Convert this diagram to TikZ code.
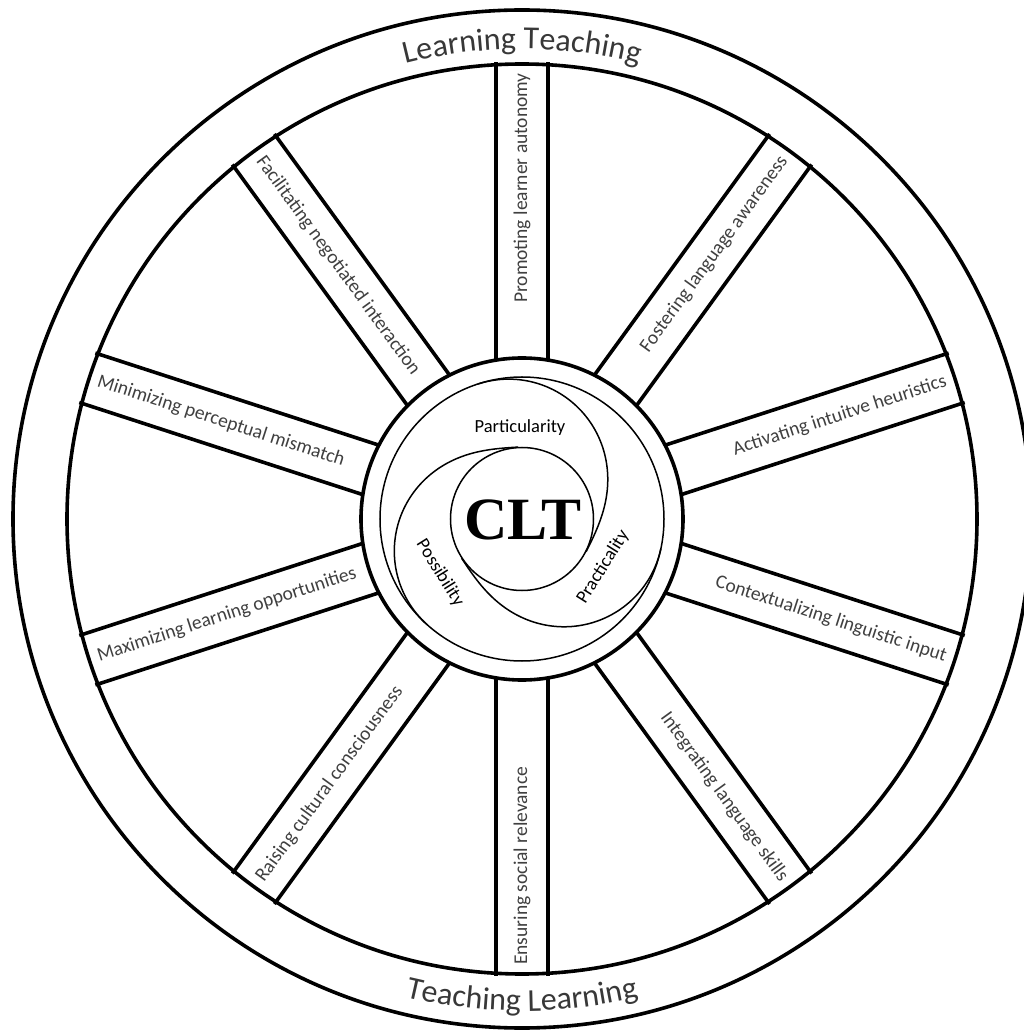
\documentclass[tikz,border=0pt]{standalone}
\usepackage{fontspec}
\setmainfont{Carlito}
\newfontfamily\cltfont{Liberation Serif}
\usetikzlibrary{decorations.text}
\begin{document}
\begin{tikzpicture}[x=1pt,y=1pt,
  rimline/.style={line width=3.6pt},
  hubline/.style={line width=1.5pt},
  spoketext/.style={font=\fontsize{19.5}{22}\selectfont, text=black!75, inner sep=0pt},
  hublabel/.style={font=\fontsize{18.5}{20}\selectfont, inner sep=0pt},
  rimtext/.style={decorate, decoration={text along path, text align=center, text color=black!78, text={|\fontsize{32}{36}\selectfont|#1}}}
]
\clip (-522,-511) rectangle (502,519);
\fill[white] (-522,-511) rectangle (502,519);
% spokes
\foreach \a in {90,54,18,-18,-54,126,162,198,234,270} {
  \draw[rimline] ([rotate=\a]157,26) -- ([rotate=\a]457,26);
  \draw[rimline] ([rotate=\a]157,-26) -- ([rotate=\a]457,-26);
}
% rim and hub
\draw[rimline] (0,0) circle[radius=509pt];
\draw[rimline] (0,0) circle[radius=455pt];
\draw[rimline, fill=white] (0,0) circle[radius=161pt];
\draw[hubline] (0,0) circle[radius=142pt];
\draw[hubline] (0,0) circle[radius=71.5pt];
\foreach \s in {108,228,348}
  \draw[hubline] plot[domain=0:135, samples=90, smooth] ({\s-\x}:{107+35*cos(\x*4/3)});
% spoke labels
\foreach \a/\t [count=\i] in {90/Promoting learner autonomy, 54/Fostering language awareness, 18/Activating intuitve heuristics, -18/Contextualizing linguistic input, -54/Integrating language skills}
  \node[spoketext, anchor=east, rotate=\a] (r\i) at (\a:446) {\t};
\foreach \a/\t [count=\i] in {126/Facilitating negotiated interaction, 162/Minimizing perceptual mismatch, 198/Maximizing learning opportunities, 234/Raising cultural consciousness, 270/Ensuring social relevance}
  \node[spoketext, anchor=west, rotate=\a-180] (l\i) at (\a:446) {\t};
% hub labels
\node[hublabel] (part) at (-2,91) {Particularity};
\node[hublabel, rotate=-58] (poss) at (-82,-54) {Possibility};
\node[hublabel, rotate=58] (prac) at (81,-48) {Practicality};
\node[inner sep=0pt, font=\cltfont\bfseries\fontsize{60}{64}\selectfont] (clt) at (1,-1) {CLT};
% rim labels
\path[rimtext={Learning Teaching}] (125:470) arc[start angle=125, end angle=55, radius=470pt];
\path[rimtext={Teaching Learning}] (236:492) arc[start angle=236, end angle=304, radius=492pt];
\end{tikzpicture}
\end{document}
